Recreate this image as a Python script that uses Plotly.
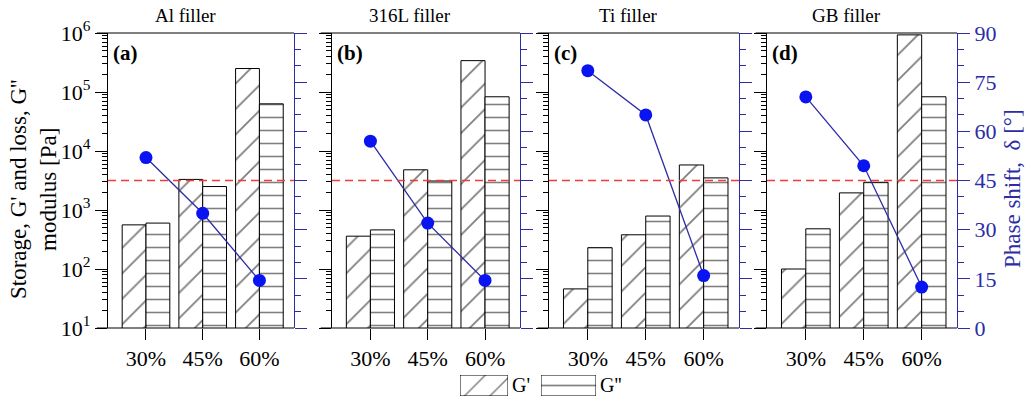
import plotly.graph_objects as go

# ---------------- data ----------------
categories = ["30%", "45%", "60%"]
fillers = ["Al filler", "316L filler", "Ti filler", "GB filler"]
panel_tags = ["(a)", "(b)", "(c)", "(d)"]

g_storage_al = [560, 3300, 250000]
g_loss_al = [600, 2500, 63000]
phase_al = [52, 35, 14.5]

g_storage_316l = [360, 4800, 340000]
g_loss_316l = [460, 3100, 83000]
phase_316l = [57, 32, 14.5]

g_storage_ti = [46, 380, 5800]
g_loss_ti = [230, 790, 3500]
phase_ti = [78.5, 65, 16]

g_storage_gb = [100, 1950, 930000]
g_loss_gb = [480, 2950, 83000]
phase_gb = [70.5, 49.5, 12.5]

storage_all = [g_storage_al, g_storage_316l, g_storage_ti, g_storage_gb]
loss_all = [g_loss_al, g_loss_316l, g_loss_ti, g_loss_gb]
phase_all = [phase_al, phase_316l, phase_ti, phase_gb]

critical_phase = 45

log_tick_vals = [10, 100, 1000, 10000, 100000, 1000000]
log_tick_text = ["10<sup>1</sup>", "10<sup>2</sup>", "10<sup>3</sup>",
                 "10<sup>4</sup>", "10<sup>5</sup>", "10<sup>6</sup>"]
log_minor_vals = [m * 10 ** k for k in range(1, 6) for m in range(2, 10)]

# ---------------- layout geometry ----------------
W, H = 1026, 401
panel_px = [(108, 294), (332, 520), (549, 739), (767, 957)]
top_px, bottom_px = 33, 328
ydom = [(H - bottom_px) / H, (H - top_px) / H]

FONT = "Liberation Serif"
BLUE_AX = "#2c2ca6"
BLUE_DOT = "#0a14f0"

fig = go.Figure()
shapes = []
annotations = []

for i in range(4):
    n = i + 1
    xa = "x" if n == 1 else f"x{n}"
    ya = "y" if n == 1 else f"y{n}"
    yr = f"y{n + 4}"
    fig.add_trace(go.Bar(
        x=categories, y=storage_all[i], name="G'", xaxis=xa, yaxis=ya,
        offsetgroup="s", showlegend=False,
        marker=dict(color="white", line=dict(color="black", width=1),
                    pattern=dict(shape="/", fgcolor="black", bgcolor="white",
                                 size=18, solidity=0.1)),
    ))
    fig.add_trace(go.Bar(
        x=categories, y=loss_all[i], name="G''", xaxis=xa, yaxis=ya,
        offsetgroup="l", showlegend=False,
        marker=dict(color="white", line=dict(color="black", width=1),
                    pattern=dict(shape="-", fgcolor="black", bgcolor="white",
                                 size=13, solidity=0.12)),
    ))
    fig.add_trace(go.Scatter(
        x=categories, y=phase_all[i], xaxis=xa, yaxis=yr, mode="lines+markers",
        line=dict(color=BLUE_AX, width=1.3),
        marker=dict(color=BLUE_DOT, size=13), showlegend=False, name="δ",
    ))

    x0p, x1p = panel_px[i]
    xd = [x0p / W, x1p / W]
    fig.layout[f"xaxis{'' if n == 1 else n}"] = dict(
        domain=xd, anchor=ya, type="category", range=[-0.67, 2.61],
        showline=False, ticks="outside", ticklen=11, tickcolor="black",
        tickfont=dict(family=FONT, size=22, color="black"), showgrid=False,
        zeroline=False, fixedrange=True, automargin=False,
    )
    fig.layout[f"yaxis{'' if n == 1 else n}"] = dict(
        domain=ydom, anchor=xa, type="log", range=[1, 6],
        tickmode="array", tickvals=log_tick_vals, ticktext=log_tick_text,
        showticklabels=(n == 1), ticks="outside", ticklen=12, tickcolor="black",
        showline=True, linecolor="black", linewidth=1.2, showgrid=False,
        zeroline=False, automargin=False,
        tickfont=dict(family=FONT, size=22, color="black"),
        minor=dict(tickmode="array", tickvals=log_minor_vals, ticks="outside",
                   ticklen=5, tickcolor="black", showgrid=False),
    )
    fig.layout[f"yaxis{n + 4}"] = dict(
        domain=ydom, anchor=xa, overlaying=ya, side="right", range=[0, 90],
        tickmode="linear", tick0=0, dtick=15, showticklabels=(n == 4),
        ticks="outside", ticklen=12, tickcolor=BLUE_AX, showline=True,
        linecolor=BLUE_AX, linewidth=1.2, showgrid=False, zeroline=False,
        automargin=False,
        tickfont=dict(family=FONT, size=22, color=BLUE_AX),
        minor=dict(dtick=5, ticks="outside", ticklen=6, tickcolor=BLUE_AX,
                   showgrid=False),
    )
    # top and bottom frame lines
    for yy in ydom:
        shapes.append(dict(type="line", xref=f"{xa} domain", yref="paper",
                           x0=-0.06, x1=1, y0=yy, y1=yy,
                           line=dict(color="black", width=1.2)))
    # critical 45 degree dashed line
    shapes.append(dict(type="line", xref=f"{xa} domain", yref=yr,
                       x0=0, x1=1, y0=critical_phase, y1=critical_phase,
                       line=dict(color="#ee3b3b", width=1.4, dash="8px,5px")))
    annotations.append(dict(text=fillers[i], xref="paper", yref="paper",
                            x=(x0p + x1p) / 2 / W - 16 / W, y=1 - 16 / H,
                            showarrow=False, xanchor="center", yanchor="middle",
                            font=dict(family=FONT, size=19, color="black")))
    annotations.append(dict(text="<b>" + panel_tags[i] + "</b>", xref="paper",
                            yref="paper", x=(x0p + 3) / W, y=1 - 53 / H,
                            showarrow=False, xanchor="left", yanchor="middle",
                            font=dict(family=FONT, size=21, color="black")))

# axis titles
annotations.append(dict(text="Storage, G' and loss, G''<br>modulus [Pa]",
                        xref="paper", yref="paper", x=33 / W, y=1 - 190 / H,
                        showarrow=False, textangle=-90, xanchor="center",
                        yanchor="middle",
                        font=dict(family=FONT, size=23, color="black")))
annotations.append(dict(text="Phase shift,  δ [°]", xref="paper", yref="paper",
                        x=1012 / W, y=1 - 189 / H, showarrow=False,
                        textangle=-90, xanchor="center", yanchor="middle",
                        font=dict(family=FONT, size=23, color=BLUE_AX)))

# legend swatches (drawn as small bar axes)
legend_items = [("G'", "/", 18, (460, 508)), ("G''", "-", 21, (541, 596))]
for j, (lab, shp, psize, (lx0, lx1)) in enumerate(legend_items):
    k = 9 + j
    fig.add_trace(go.Bar(
        x=[1], y=[0], orientation="h", width=1, xaxis=f"x{k}", yaxis=f"y{k}",
        showlegend=False, name=lab, hoverinfo="skip",
        marker=dict(color="white", line=dict(color="black", width=1),
                    pattern=dict(shape=shp, fgcolor="black", bgcolor="white",
                                 size=psize, solidity=0.08)),
    ))
    fig.layout[f"xaxis{k}"] = dict(domain=[lx0 / W, lx1 / W], anchor=f"y{k}",
                                   range=[0, 1], visible=False, automargin=False)
    fig.layout[f"yaxis{k}"] = dict(domain=[(H - 396) / H, (H - 375) / H],
                                   anchor=f"x{k}", range=[-0.5, 0.5],
                                   visible=False, automargin=False)
    annotations.append(dict(text=lab, xref="paper", yref="paper",
                            x=(lx1 + 2) / W, y=1 - 385 / H, showarrow=False,
                            xanchor="left", yanchor="middle",
                            font=dict(family=FONT, size=20, color="black")))

fig.update_layout(
    width=W, height=H, margin=dict(l=0, r=0, t=0, b=0, pad=0),
    paper_bgcolor="white", plot_bgcolor="white",
    barmode="group", bargap=0.16, bargroupgap=0,
    shapes=shapes, annotations=annotations, showlegend=False,
)

fig.write_html("out.html")
